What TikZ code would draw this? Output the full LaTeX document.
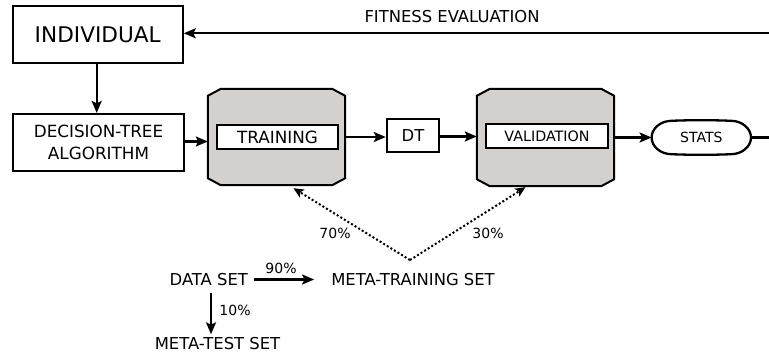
\documentclass[tikz,border=0pt]{standalone}
\usepackage{fontspec}
\setmainfont{DejaVu Sans}
\usetikzlibrary{arrows.meta}
\definecolor{procgray}{RGB}{211,208,206}
\newcommand\fbig{\fontsize{21.6}{25}\selectfont}
\newcommand\fdec{\fontsize{16.8}{21.7}\selectfont}
\newcommand\fmid{\fontsize{16.4}{20}\selectfont}
\newcommand\fval{\fontsize{14.3}{17}\selectfont}
\newcommand\fsmall{\fontsize{14}{17}\selectfont}
\newcommand\octo[1]{\draw[octline] ([xshift=13pt]#1.north west) -- ([xshift=-13pt]#1.north east) -- ([yshift=-7pt]#1.north east) -- ([yshift=7pt]#1.south east) -- ([xshift=-13pt]#1.south east) -- ([xshift=13pt]#1.south west) -- ([yshift=7pt]#1.south west) -- ([yshift=-7pt]#1.north west) -- cycle;}
\begin{document}
\begin{tikzpicture}[x=1pt,y=-1pt,
  box/.style={draw, line width=2.2pt, inner sep=0pt, align=center},
  outer/.style={rectangle, inner sep=0pt, draw=none},
  octline/.style={draw=black, fill=procgray, line width=2pt, line join=miter},
  lbl/.style={inner sep=3pt, font=\fmid},
  pct/.style={inner sep=1pt, font=\fsmall},
  arr/.style={line width=2.3pt, -{Stealth[length=12pt,width=10pt,inset=2.5pt]}},
  plain/.style={line width=2.3pt},
  dotarr/.style={line width=2pt, dash pattern=on 2pt off 2.2pt, -{Stealth[length=10pt,width=9pt,inset=2pt]}}]
\useasboundingbox (0,0) rectangle (769,362);
\node[lbl] (fit) at (452,17) {FITNESS EVALUATION};
\node[box, minimum width=170pt, minimum height=56.7pt, font=\fbig] (ind) at (97.7,34.3) {INDIVIDUAL};
\node[box, minimum width=171pt, minimum height=57pt, font=\fdec] (dec) at (98.5,142.5) {DECISION-TREE\\ALGORITHM};
\node[outer, minimum width=137pt, minimum height=96pt] (tro) at (276.5,137) {};
\octo{tro}
\node[box, fill=white, minimum width=121pt, minimum height=24pt, font=\fdec] (tri) at (277.5,137) {TRAINING};
\node[box, minimum width=52.3pt, minimum height=33pt, font=\fmid] (dt) at (413,135.5) {DT};
\node[outer, minimum width=137pt, minimum height=97pt] (vao) at (545.5,137.5) {};
\octo{vao}
\node[box, fill=white, minimum width=122pt, minimum height=24pt, font=\fval] (vai) at (547,136) {VALIDATION};
\node[outer, minimum width=99pt, minimum height=33pt, font=\fsmall] (st) at (701.3,137.5) {STATS};
\draw[line width=2.3pt] (st.west) .. controls ([yshift=9pt]st.west) and ([xshift=9pt]st.north west) .. ([xshift=20pt]st.north west)
  .. controls ([xshift=38pt,yshift=0.8pt]st.north west) and ([xshift=-38pt,yshift=0.8pt]st.north east) .. ([xshift=-20pt]st.north east)
  .. controls ([xshift=-9pt]st.north east) and ([yshift=9pt]st.east) .. (st.east)
  .. controls ([yshift=-9pt]st.east) and ([xshift=-9pt]st.south east) .. ([xshift=-20pt]st.south east)
  .. controls ([xshift=-38pt,yshift=-0.8pt]st.south east) and ([xshift=38pt,yshift=-0.8pt]st.south west) .. ([xshift=20pt]st.south west)
  .. controls ([xshift=9pt]st.south west) and ([yshift=-9pt]st.west) .. (st.west) -- cycle;
\coordinate (re1) at (769,33.3);
\coordinate (re2) at (769,137.5);
\draw[arr] (re1) -- (re1 -| ind.east);
\draw[arr] ([xshift=-1pt]ind.south) -- ([xshift=-1pt]ind.south |- dec.north);
\draw[arr] ([yshift=1pt]dec.east) -- ([yshift=1pt]dec.east -| tro.west);
\draw[arr] (tro.east) -- (tro.east -| dt.west);
\draw[arr] ([yshift=-1pt]dt.east) -- ([yshift=-1pt]dt.east -| vao.west);
\draw[arr] (vao.east) -- (vao.east -| st.west);
\draw[plain] (st.east) -- (re2);
\coordinate (apex) at (410,260);
\draw[dotarr] (apex) -- ([xshift=17pt,yshift=-3pt]tro.south);
\draw[dotarr] (apex) -- ([xshift=-20pt,yshift=-1pt]vao.south);
\node[pct] (p70) at (335,233) {70\%};
\node[pct] (p30) at (488,233) {30\%};
\node[lbl] (ds) at (208.8,279.5) {DATA SET};
\node[lbl] (mts) at (413,279.5) {META-TRAINING SET};
\node[lbl] (mt) at (217.5,343.7) {META-TEST SET};
\draw[arr, shorten <=3pt, shorten >=14pt] (ds.east) -- (mts.west);
\node[pct] (p90) at (281,268) {90\%};
\draw[arr, shorten <=4pt] ([xshift=2.2pt]ds.south) -- ([xshift=2.2pt]ds.south |- mt.north);
\node[pct] (p10) at (235,310) {10\%};
\end{tikzpicture}
\end{document}
